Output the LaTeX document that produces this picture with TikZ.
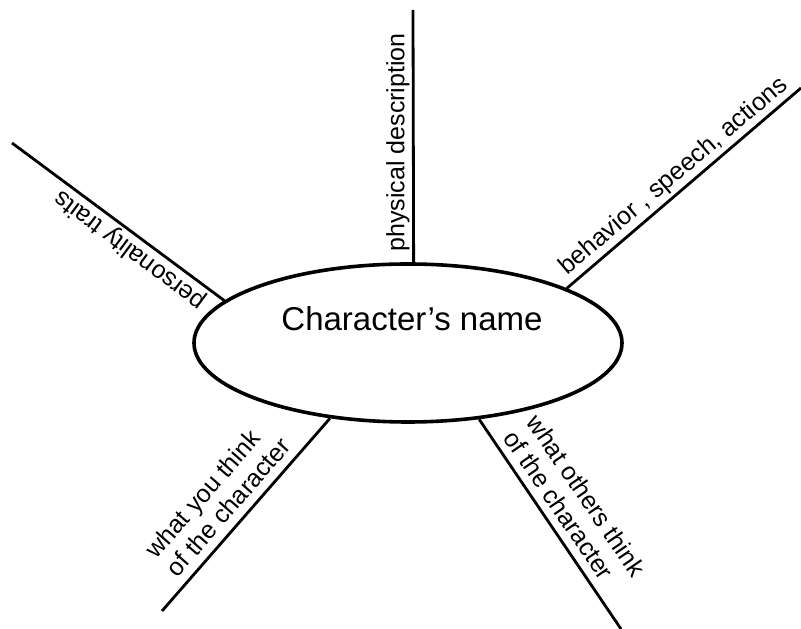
\documentclass[tikz,border=0pt]{standalone}
\usepackage{fontspec}
\setmainfont{Liberation Sans}
\usetikzlibrary{calc,shapes.geometric}
\tikzstyle{webStyle} = [x = 1pt, y = 1pt]
\tikzstyle{nameEllipse} = [draw, ellipse, line width = 3.6pt, minimum width = 428pt, minimum height = 158pt, inner sep = 0pt]
\tikzstyle{nameText} = [font=\fontsize{33}{36}\selectfont, anchor = base]
\tikzstyle{spokeLine} = [line width = 2.8pt]
\tikzstyle{spokeText} = [font=\fontsize{25}{28}\selectfont, inner sep = 0pt, align = left]
\newcommand{\gap}{9pt}

\begin{document}
\begin{tikzpicture}[webStyle]
  \useasboundingbox (0,0) rectangle (801,629);

  \node [nameEllipse] (char) at (408,286) {};
  \node [nameText] (charName) at (412,298) {Character's name};

  % free ends of the spokes
  \coordinate (physEnd) at (413,619);
  \coordinate (behEnd) at (801,541);
  \coordinate (persEnd) at (12,486);
  \coordinate (youEnd) at (162,18);
  \coordinate (othersEnd) at (621,0);

  \draw [spokeLine] (char.86) -- (physEnd);
  \draw [spokeLine] (char.19) -- (behEnd);
  \draw [spokeLine] (char.167) -- (persEnd);
  \draw [spokeLine] (char.224) -- (youEnd);
  \draw [spokeLine] (char.313) -- (othersEnd);

  \node [spokeText, anchor = base, rotate = 90] (phys)
    at ($(char.86)!0.475!(physEnd)!\gap!90:(physEnd)$) {physical description};
  \node [spokeText, anchor = base, rotate = 40.3] (beh)
    at ($(char.19)!0.5!(behEnd)!\gap!90:(behEnd)$) {behavior , speech, actions};
  \node [spokeText, anchor = base, rotate = 143.3] (pers)
    at ($(char.167)!0.4!(persEnd)!\gap!90:(persEnd)$) {personality traits};
  \node [spokeText, anchor = south, rotate = 48.8] (you)
    at ($(youEnd)!0.477!(char.224)!\gap!90:(char.224)$) {what you think\\of the character};
  \node [spokeText, anchor = south, rotate = -55.7] (others)
    at ($(char.313)!0.487!(othersEnd)!\gap!90:(othersEnd)$) {what others think\\of the character};
\end{tikzpicture}
\end{document}
